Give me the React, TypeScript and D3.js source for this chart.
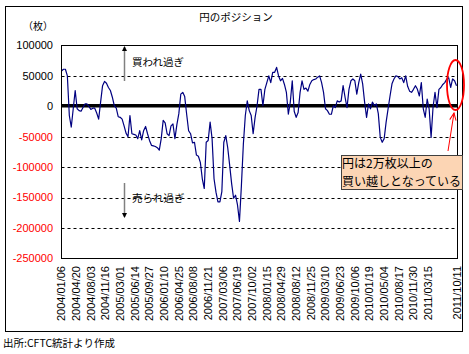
import React, { useRef, useEffect } from "react";
import * as d3 from "d3";

// yen net position (contracts), one reading every 2 weeks from 2004/01/06
const startDate = "2004/01/06";
const endDate = "2011/10/11";
const positions = [
  58000, 61000, 61000, 50000, -15000, -34000, -4000, 26000, -4000, -7000,
  -8000, -2000, 4000, 4000, 0, -5000, -3000, -3000, -11000, -21000,
  7000, 34000, 41000, 38000, 31000, 26000, 15000, 1000, -3000, -17000,
  -18000, -21000, -32000, -44000, -50000, -15000, -45000, -46000, -47000, -53000,
  -40000, -55000, -40000, -33000, -45000, -56000, -64000, -65000, -66000, -68000,
  -72000, -53000, -23000, -27000, -45000, -48000, -32000, -29000, -53000, -30000,
  -12000, 20000, 23000, 16000, -13000, -40000, -45000, -60000, -59000, -80000,
  -82000, -92000, -119000, -135000, -59000, -56000, -26000, -53000, -119000, -141000,
  -157000, -157000, -140000, -59000, -48000, -68000, -97000, -127000, -151000, -146000,
  -162000, -189000, -130000, -62000, -15000, 9000, -7000, -15000, -45000, -18000,
  1000, 28000, 28000, 1000, 28000, 39000, 50000, 39000, 56000, 56000,
  64000, 50000, 42000, 46000, 36000, 23000, -13000, 7000, 42000, -8000,
  -18000, -10000, 23000, 42000, 28000, 30000, 25000, 36000, 42000, 44000,
  45000, 48000, 50000, 39000, 23000, -4000, -7000, -13000, -13000, 1000,
  -2000, 9000, 7000, 9000, 34000, 15000, -2000, 28000, 42000, 45000,
  42000, 20000, 39000, 53000, 37000, 7000, -18000, 4000, -4000, 7000,
  1000, 4000, -12000, -51000, -59000, -53000, -26000, -4000, 17000, 37000,
  45000, 50000, 49000, 45000, 47000, 39000, 50000, 33000, 25000, 23000,
  28000, 34000, 28000, 17000, 39000, -4000, -18000, 12000, -4000, -51000,
  -1000, 23000, -2000, 28000, 31000, 36000, 39000, 45000, 47000, 31000,
  45000, 42000, 34000,
];

const tickDates = [
  "2004/01/06", "2004/04/20", "2004/08/03", "2004/11/16", "2005/03/01",
  "2005/06/14", "2005/09/27", "2006/01/10", "2006/04/25", "2006/08/08",
  "2006/11/21", "2007/03/06", "2007/06/19", "2007/10/02", "2008/01/15",
  "2008/04/29", "2008/08/12", "2008/11/25", "2009/03/10", "2009/06/23",
  "2009/10/06", "2010/01/19", "2010/05/04", "2010/08/17", "2010/11/30",
  "2011/03/15", "2011/10/11",
];

const yTicks = [100000, 50000, 0, -50000, -100000, -150000, -200000, -250000];
const gridValues = [50000, -50000, -100000, -150000, -200000];
const noteLines = ["円は2万枚以上の", "買い越しとなっている"];

const App = () => {
  const ref = useRef<SVGSVGElement>(null);

  useEffect(() => {
    const width = 469;
    const height = 354;
    const left = 61.5, right = 457.5, top = 45.5, bottom = 258.5;
    const jp = "'Noto Sans CJK JP', sans-serif";
    const num = "'Liberation Sans', Arial, sans-serif";

    const parse = d3.utcParse("%Y/%m/%d");
    const start = parse(startDate)!;
    const dates = positions.map((_, i) => d3.utcDay.offset(start, 14 * i));

    const x = d3.scaleUtc().domain([start, parse(endDate)!]).range([left, right]);
    const y = d3.scaleLinear().domain([-250000, 100000]).range([bottom, top]);

    const svg = d3.select(ref.current);
    svg.selectAll("*").remove();
    svg.attr("width", width).attr("height", height);

    const defs = svg.append("defs");
    defs.append("marker")
      .attr("id", "blackHead")
      .attr("viewBox", "0 0 10 10")
      .attr("refX", 8).attr("refY", 5)
      .attr("markerWidth", 5).attr("markerHeight", 5)
      .attr("markerUnits", "userSpaceOnUse")
      .attr("orient", "auto")
      .append("path").attr("d", "M0,0L10,5L0,10Z").attr("fill", "#000");
    defs.append("marker")
      .attr("id", "redHead")
      .attr("viewBox", "0 0 10 10")
      .attr("refX", 9).attr("refY", 5)
      .attr("markerWidth", 8).attr("markerHeight", 8)
      .attr("markerUnits", "userSpaceOnUse")
      .attr("orient", "auto")
      .append("path").attr("d", "M0,1L9,5L0,9").attr("fill", "none").attr("stroke", "#f00").attr("stroke-width", 1.3);

    svg.append("rect")
      .attr("x", 0).attr("y", 0).attr("width", width).attr("height", height).attr("fill", "#fff");
    svg.append("rect")
      .attr("x", 5.5).attr("y", 6.5).attr("width", 457).attr("height", 325)
      .attr("fill", "#fff").attr("stroke", "#000");

    svg.append("text")
      .attr("x", 236).attr("y", 21)
      .attr("text-anchor", "middle")
      .attr("font-family", jp).attr("font-size", 10.5)
      .text("円のポジション");

    svg.append("text")
      .attr("x", 23).attr("y", 30)
      .attr("font-family", jp).attr("font-size", 10)
      .text("（枚）");

    // gridlines
    svg.append("g").selectAll("line")
      .data(gridValues)
      .join("line")
      .attr("x1", left).attr("x2", right)
      .attr("y1", d => Math.round(y(d)) + 0.5).attr("y2", d => Math.round(y(d)) + 0.5)
      .attr("stroke", "#000").attr("stroke-dasharray", "3,3");

    // y labels
    svg.append("g").selectAll("text")
      .data(yTicks)
      .join("text")
      .attr("x", 53).attr("y", d => y(d))
      .attr("dy", "0.35em")
      .attr("text-anchor", "end")
      .attr("font-family", num).attr("font-size", 11)
      .attr("fill", d => (d < 0 ? "#f00" : "#000"))
      .text(d => String(d));

    // x labels
    svg.append("g").selectAll("text")
      .data(tickDates)
      .join("text")
      .attr("transform", d => `translate(${x(parse(d)!)},266) rotate(-90)`)
      .attr("dy", "0.35em")
      .attr("text-anchor", "end")
      .attr("font-family", num).attr("font-size", 11)
      .text(d => d);

    // zero line
    svg.append("line")
      .attr("x1", left).attr("x2", right)
      .attr("y1", y(0) - 0.5).attr("y2", y(0) - 0.5)
      .attr("stroke", "#000").attr("stroke-width", 3.5);

    // series
    const line = d3.line<number>()
      .x((_, i) => x(dates[i]))
      .y(d => y(d));
    svg.append("path")
      .datum(positions)
      .attr("fill", "none")
      .attr("stroke", "#000080")
      .attr("stroke-width", 1.2)
      .attr("stroke-linejoin", "round")
      .attr("d", line);

    // plot frame
    svg.append("rect")
      .attr("x", left).attr("y", top)
      .attr("width", right - left).attr("height", bottom - top)
      .attr("fill", "none").attr("stroke", "#000");

    // over/under bought arrows
    svg.append("line")
      .attr("x1", 124.5).attr("x2", 124.5).attr("y1", 81).attr("y2", 47)
      .attr("stroke", "#808080").attr("stroke-width", 1.5)
      .attr("marker-end", "url(#blackHead)");
    svg.append("text")
      .attr("x", 132).attr("y", 62).attr("dy", "0.35em")
      .attr("font-family", jp).attr("font-size", 10.5)
      .text("買われ過ぎ");
    svg.append("line")
      .attr("x1", 124.5).attr("x2", 124.5).attr("y1", 183).attr("y2", 217)
      .attr("stroke", "#808080").attr("stroke-width", 1.5)
      .attr("marker-end", "url(#blackHead)");
    svg.append("text")
      .attr("x", 132).attr("y", 198).attr("dy", "0.35em")
      .attr("font-family", jp).attr("font-size", 10.5)
      .text("売られ過ぎ");

    // note
    svg.append("rect")
      .attr("x", 341.5).attr("y", 155.5).attr("width", 121).attr("height", 34)
      .attr("fill", "#FCD5B4").attr("stroke", "#404040");
    svg.append("g").selectAll("text")
      .data(noteLines)
      .join("text")
      .attr("x", 342).attr("y", (_, i) => 163.5 + i * 18.5)
      .attr("dy", "0.35em")
      .attr("font-family", jp).attr("font-size", 12)
      .text(d => d);

    svg.append("ellipse")
      .attr("cx", 455.5).attr("cy", 85).attr("rx", 8.5).attr("ry", 25)
      .attr("fill", "none").attr("stroke", "#f00").attr("stroke-width", 1.8);
    svg.append("line")
      .attr("x1", 448).attr("y1", 151).attr("x2", 454).attr("y2", 113)
      .attr("stroke", "#f00").attr("stroke-width", 1)
      .attr("marker-end", "url(#redHead)");

    svg.append("text")
      .attr("x", 3).attr("y", 343).attr("dy", "0.35em")
      .attr("font-family", jp).attr("font-size", 10.5)
      .text("出所:CFTC統計より作成");
  }, []);

  return <svg ref={ref} style={{ position: "absolute", left: 0, top: 0, display: "block" }} />;
};

export default App;
